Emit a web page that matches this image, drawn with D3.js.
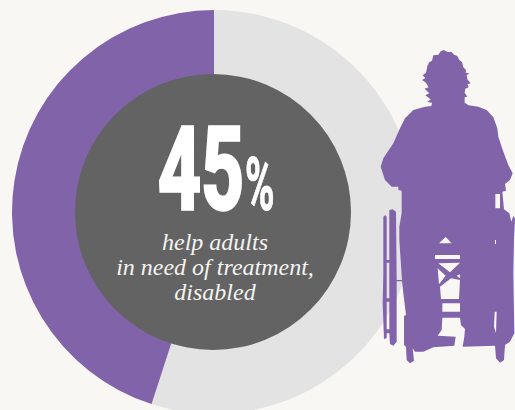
<!DOCTYPE html>
<html>
<head>
<meta charset="utf-8">
<script src="https://cdn.jsdelivr.net/npm/d3@7"></script>
<style>
  html, body { margin: 0; padding: 0; background: #f8f7f3; overflow: hidden; }
  svg { display: block; }
</style>
</head>
<body>
<script>
// Share of adults in need of treatment who are disabled and receive help
const categories = ["other", "help adults"];
const shares = [55, 45];
const headline = "45";
const captionLines = ["help adults", "in need of treatment,", "disabled"];

// Seated figure in a wheelchair, traced on a 3-per-pixel drawing grid
const figureBody = [[222,30],[232,36],[245,36],[252,44],[262,48],[268,60],[276,66],[280,82],[288,90],[287,98],[298,100],[290,106],[292,118],[302,130],[292,133],[296,142],[286,146],[284,158],[292,170],[284,172],[284,188],[296,196],[325,200],[350,210],[370,232],[382,265],[385,290],[400,335],[415,375],[428,400],[420,420],[405,432],[408,452],[397,455],[402,508],[418,520],[424,545],[430,528],[435,535],[432,600],[430,700],[433,880],[420,905],[405,915],[402,960],[390,968],[378,955],[375,917],[278,920],[283,890],[285,867],[273,855],[270,833],[217,833],[215,870],[203,887],[257,890],[253,917],[190,922],[160,935],[135,935],[128,925],[132,962],[120,970],[110,960],[108,920],[102,915],[102,828],[108,825],[100,760],[96,722],[88,600],[88,560],[95,520],[95,452],[85,450],[85,440],[65,440],[45,420],[32,380],[40,355],[70,310],[90,265],[105,235],[130,210],[165,200],[184,198],[186,188],[172,186],[182,178],[166,166],[178,160],[164,146],[176,142],[168,128],[156,120],[166,114],[158,106],[168,98],[172,78],[178,66],[186,62],[190,46],[205,44],[212,34]];
const figureGaps = [
  [[207,610],[227,591],[245,610]],
  [[195,645],[270,645],[270,657],[195,657]],
  [[205,670],[270,668],[240,697]],
  [[203,685],[227,707],[207,733]],
  [[270,703],[260,707],[270,715]],
  [[243,715],[270,720],[267,777],[213,777],[210,740]],
  [[217,790],[270,790],[270,815],[217,815]],
  [[376,462],[390,462],[390,505],[376,505]],
  [[375,600],[378,600],[378,612],[375,612]],
  [[374,815],[380,815],[378,880],[372,860]]
];
const chairParts = [
  [[40,530],[46,525],[50,530],[50,660],[58,660],[58,510],[68,508],[78,515],[80,720],[96,720],[96,724],[80,724],[80,905],[70,917],[60,912],[58,880],[50,880],[50,895],[42,897],[38,790],[40,700]]
];
const chairGaps = [
  [[50,668],[58,668],[58,775],[50,775]],
  [[50,785],[58,785],[58,868],[50,868]]
];

const width = 515, height = 410;
const cx = 214, cy = 212, outerR = 202, innerR = 138;
const purple = "#8063a9", pale = "#e3e3e3", slate = "#636363";

const svg = d3.select("body").append("svg")
  .attr("width", width).attr("height", height);

// Donut
const pie = d3.pie().sort(null).value(d => d);
const arc = d3.arc().innerRadius(innerR - 2).outerRadius(outerR);
const colour = d3.scaleOrdinal().domain(categories).range([pale, purple]);

svg.append("g").attr("transform", `translate(${cx},${cy})`)
  .selectAll("path").data(pie(shares)).join("path")
  .attr("d", arc)
  .attr("fill", (d, i) => colour(categories[i]));

svg.append("circle")
  .attr("cx", cx - 1).attr("cy", cy).attr("r", innerR)
  .attr("fill", slate);

// Headline figure, squeezed horizontally into a tall condensed shape
const big = svg.append("g").attr("fill", "#fff").attr("stroke", "#fff")
  .attr("font-family", "Roboto, sans-serif")
  .attr("font-weight", 700);
big.append("text")
  .attr("transform", "translate(158,209) scale(0.65,1)")
  .attr("font-size", 115)
  .attr("stroke-width", 3.5)
  .text(headline);
big.append("text")
  .attr("transform", "translate(245,210) scale(0.54,1)")
  .attr("font-size", 74)
  .attr("stroke-width", 1)
  .text("%");

// Caption
svg.append("g")
  .attr("fill", "#f4f4f2")
  .attr("font-family", "'Liberation Serif', serif")
  .attr("font-style", "italic")
  .attr("font-size", 24)
  .attr("text-anchor", "middle")
  .selectAll("text").data(captionLines).join("text")
  .attr("x", 215)
  .attr("y", (d, i) => 250 + i * 25)
  .text(d => d);

// Figure silhouette
const px = d3.scaleLinear().domain([0, 435]).range([370, 515]);
const py = d3.scaleLinear().domain([0, 990]).range([40, 370]);
const ring = d3.line().x(d => px(d[0])).y(d => py(d[1])).curve(d3.curveLinearClosed);

svg.append("path")
  .attr("d", [figureBody, ...figureGaps].map(ring).join(""))
  .attr("fill", purple).attr("fill-rule", "evenodd");
svg.append("path")
  .attr("d", [...chairParts, ...chairGaps].map(ring).join(""))
  .attr("fill", purple).attr("fill-rule", "evenodd");
</script>
</body>
</html>
